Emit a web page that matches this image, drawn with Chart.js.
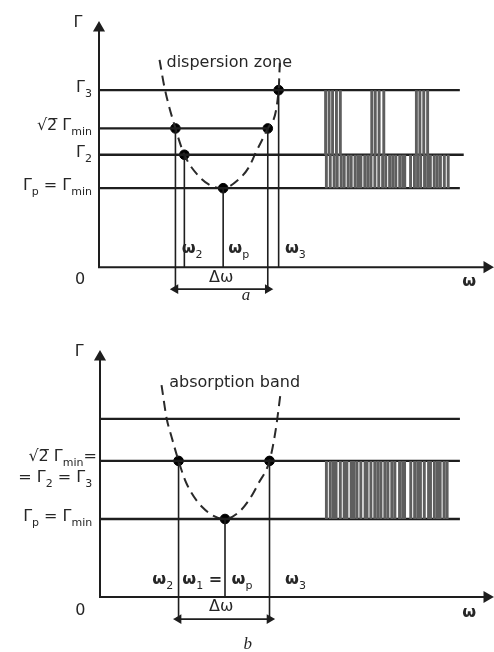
<!DOCTYPE html>
<html>
<head>
<meta charset="utf-8">
<script src="https://cdn.jsdelivr.net/npm/chart.js@4.4.1/dist/chart.umd.min.js"></script>
<style>
  html, body { margin: 0; padding: 0; background: #fff; }
  .panel { position: absolute; left: 0; width: 494px; }
  #wa { top: 0; height: 310px; }
  #wb { top: 320px; height: 332px; }
</style>
</head>
<body>
<div class="panel" id="wa"><canvas id="chartA"></canvas></div>
<div class="panel" id="wb"><canvas id="chartB"></canvas></div>
<script>
// ---- panel a : dispersion zone ----
const levelNamesA = ['Γ_p = Γ_min', 'Γ_2', '√2̅ Γ_min', 'Γ_3'];
const levelsA = [33, 47, 58, 74];
const levelEndsA = [93, 94, 43.5, 93];
const dotsAx = [19.7, 22, 32, 43.5, 46.3];
const dotsAy = [58, 47, 33, 58, 74];
const dropEndsA = [-9.2, 0, 0, -9.2, 0];
const curveAx = [15.6, 16.9, 19.7, 22, 25.8, 29.2, 32, 36, 38.6, 40.4, 43.5, 46.3, 46.6];
const curveAy = [86.7, 75, 58, 47, 37.9, 33.8, 33, 36.7, 41.7, 47.9, 58, 74, 85.4];
const hatchLowA = [58.6, 59.6, 60.6, 61.4, 62.4, 63.2, 64.2, 65.0, 66.0, 66.8, 67.5, 68.5, 69.3, 70.1,
  71.1, 72.1, 73.1, 73.9, 74.9, 75.7, 76.5, 77.5, 78.3, 78.8, 80.3, 81.3, 82.1, 82.9, 83.9, 84.7,
  85.4, 86.4, 87.2, 88.0, 89.0, 90.0];
const hatchHighA = [58.4, 59.3, 60.2, 61.2, 62.2, 70.3, 71.2, 72.2, 73.4, 81.8, 82.7, 83.7, 84.7];
const bracketA = [19.7, 43.5];

// ---- panel b : absorption band ----
const levelNamesB = ['Γ_p = Γ_min', '= Γ_2 = Γ_3', '√2̅ Γ_min='];
const levelsB = [32.5, 56.7, 74.2];
const levelEndsB = [93, 93, 93];
const dotsBx = [20.3, 32.3, 43.8];
const dotsBy = [56.7, 32.5, 56.7];
const dropEndsB = [-9.2, 0, -9.2];
const curveBx = [15.9, 17.2, 18.5, 20.3, 22.3, 26.4, 32.3, 35.9, 38.5, 41, 43.8, 45.4, 46.7];
const curveBy = [88.3, 74.6, 66.7, 56.7, 47.5, 37.5, 32.5, 35.4, 40.4, 47.5, 56.7, 69.6, 85.4];
const hatchB = [58.5, 59.5, 60.3, 61.0, 62.1, 63.1, 63.8, 64.9, 65.6, 66.4, 67.4, 68.5, 69.0, 70.0,
  71.0, 71.8, 72.6, 73.6, 74.4, 75.4, 76.2, 77.4, 78.2, 78.7, 80.3, 81.3, 82.1, 82.8, 83.8, 84.9,
  85.4, 86.4, 87.2, 87.9, 88.9, 89.7];
const bracketB = [20.3, 43.8];

const INK = '#1e1e1e';
const FONT = '"DejaVu Sans", sans-serif';

// line pieces separated by null points
function segs(list) {
  const out = [];
  list.forEach(s => {
    out.push({x: s[0], y: s[1]}, {x: s[2], y: s[3]}, {x: s[2], y: null});
  });
  return out;
}

// text with "_sub" subscripts
function drawRich(ctx, text, px, py, align, size, weight) {
  const parts = [];
  text.split(/_([A-Za-z0-9]+)/).forEach((t, i) => { if (t) parts.push({t, sub: i % 2 === 1}); });
  const big = weight + ' ' + size + 'px ' + FONT, small = Math.round(size * 0.66) + 'px ' + FONT;
  let w = 0;
  parts.forEach(p => { ctx.font = p.sub ? small : big; p.w = ctx.measureText(p.t).width; w += p.w; });
  let x = align === 'right' ? px - w : align === 'left' ? px : px - w / 2;
  ctx.textBaseline = 'middle';
  ctx.textAlign = 'left';
  parts.forEach(p => {
    ctx.font = p.sub ? small : big;
    ctx.fillText(p.t, x, p.sub ? py + size * 0.4 : py);
    x += p.w;
  });
}

function labelPlugin(items) {
  return {
    id: 'labels',
    afterDatasetsDraw(chart) {
      const {ctx, scales: {x, y}} = chart;
      ctx.save();
      ctx.fillStyle = '#262626';
      items.forEach(it => {
        const px = x.getPixelForValue(it.x), py = y.getPixelForValue(it.y);
        if (it.italic) {
          ctx.font = 'italic ' + it.size + 'px "Liberation Serif", serif';
          ctx.textAlign = 'center';
          ctx.textBaseline = 'middle';
          ctx.fillText(it.text, px, py);
        } else {
          drawRich(ctx, it.text, px, py, it.align || 'center', it.size || 16, it.bold ? 'bold' : 'normal');
        }
      });
      ctx.restore();
    }
  };
}

function buildChart(id, p) {
  const line = {showLine: true, pointRadius: 0, borderColor: INK, backgroundColor: INK, spanGaps: false, clip: false};
  const datasets = [
    Object.assign({}, line, {
      data: [{x: 0, y: 100}, {x: 0, y: 0}, {x: 100, y: 0}],
      borderWidth: 2, pointStyle: 'triangle', pointRadius: [5, 0, 5], pointRotation: [0, 0, 90]
    }),
    Object.assign({}, line, {
      data: segs(p.hatch), borderWidth: 2.9, borderColor: '#5e5e5e'
    }),
    Object.assign({}, line, {
      data: segs(p.levels.map((v, i) => [0, v, p.levelEnds[i], v])), borderWidth: 2.3
    }),
    Object.assign({}, line, {
      data: segs(p.dotsX.map((v, i) => [v, p.dotsY[i], v, p.dropEnds[i]])), borderWidth: 1.6
    }),
    Object.assign({}, line, {
      data: [{x: p.bracket[0], y: -9.2}, {x: p.bracket[1], y: -9.2}],
      borderWidth: 1.6, pointStyle: 'triangle', pointRadius: 4, pointRotation: [270, 90]
    }),
    Object.assign({}, line, {
      data: p.curveX.map((v, i) => ({x: v, y: p.curveY[i]})),
      borderWidth: 2, borderDash: [10, 6], cubicInterpolationMode: 'monotone', borderColor: '#2a2a2a'
    }),
    {
      data: p.dotsX.map((v, i) => ({x: v, y: p.dotsY[i]})),
      showLine: false, pointRadius: 4.8, backgroundColor: '#000', borderColor: '#000', clip: false
    }
  ];
  return new Chart(document.getElementById(id), {
    type: 'scatter',
    data: {datasets},
    options: {
      responsive: true,
      maintainAspectRatio: false,
      animation: false,
      events: [],
      layout: {padding: p.padding},
      plugins: {legend: {display: false}, tooltip: {enabled: false}},
      scales: {
        x: {type: 'linear', min: 0, max: 100, display: false},
        y: {type: 'linear', min: -15, max: 100, display: false}
      }
    },
    plugins: [labelPlugin(p.labels)]
  });
}

buildChart('chartA', {
  levels: levelsA, levelEnds: levelEndsA, dotsX: dotsAx, dotsY: dotsAy, dropEnds: dropEndsA,
  curveX: curveAx, curveY: curveAy, bracket: bracketA,
  hatch: hatchLowA.map(h => [h, levelsA[0], h, levelsA[1]])
    .concat(hatchHighA.map(h => [h, levelsA[1], h, levelsA[3]])),
  padding: {left: 99, right: 4, top: 28, bottom: 6},
  labels: [
    {text: 'Γ', x: -5.4, y: 102},
    {text: levelNamesA[3], x: -1.8, y: levelsA[3] + 1, align: 'right'},
    {text: levelNamesA[2], x: -1.8, y: levelsA[2] + 1, align: 'right'},
    {text: levelNamesA[1], x: -1.8, y: levelsA[1] + 1, align: 'right'},
    {text: levelNamesA[0], x: -1.8, y: levelsA[0] + 1, align: 'right'},
    {text: '0', x: -4.9, y: -5.4},
    {text: 'ω', x: 95.4, y: -6.3, bold: true},
    {text: 'dispersion zone', x: 17.4, y: 85.4, align: 'left'},
    {text: 'ω_2', x: 24, y: 7.5, bold: true},
    {text: 'ω_p', x: 36, y: 7.5, bold: true},
    {text: 'ω_3', x: 50.6, y: 7.5, bold: true},
    {text: 'Δω', x: 31.5, y: -4.6},
    {text: 'a', x: 37.9, y: -11.7, italic: true, size: 17}
  ]
});

buildChart('chartB', {
  levels: levelsB, levelEnds: levelEndsB, dotsX: dotsBx, dotsY: dotsBy, dropEnds: dropEndsB,
  curveX: curveBx, curveY: curveBy, bracket: bracketB,
  hatch: hatchB.map(h => [h, levelsB[0], h, levelsB[1]]),
  padding: {left: 100, right: 4, top: 37, bottom: 19},
  labels: [
    {text: 'Γ', x: -5.4, y: 102},
    {text: levelNamesB[2], x: -0.8, y: 58.3, align: 'right'},
    {text: levelNamesB[1], x: -2, y: 49.6, align: 'right'},
    {text: levelNamesB[0], x: -2, y: levelsB[0] + 1, align: 'right'},
    {text: '0', x: -5.1, y: -5.8},
    {text: 'ω', x: 95.4, y: -6.7, bold: true},
    {text: 'absorption band', x: 17.9, y: 89.2, align: 'left'},
    {text: 'ω_2', x: 16.2, y: 7, bold: true},
    {text: 'ω_1 =', x: 26.4, y: 7, bold: true},
    {text: 'ω_p', x: 36.7, y: 7, bold: true},
    {text: 'ω_3', x: 50.5, y: 7, bold: true},
    {text: 'Δω', x: 31.3, y: -4.2},
    {text: 'b', x: 38.2, y: -20, italic: true, size: 17}
  ]
});
</script>
</body>
</html>
